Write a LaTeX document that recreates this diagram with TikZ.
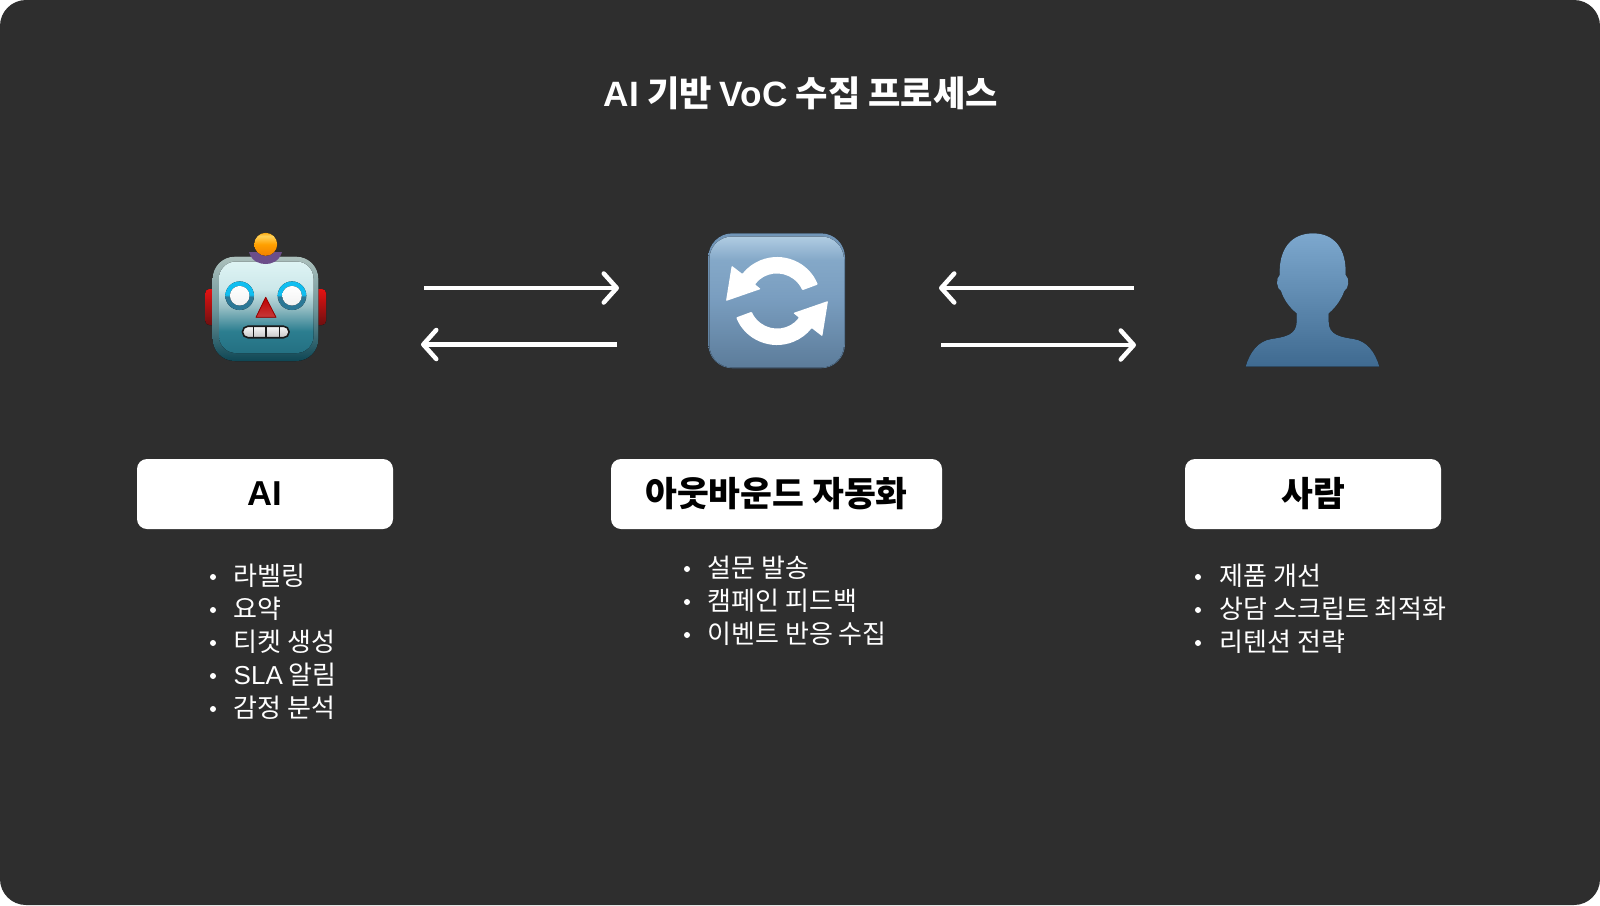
\documentclass[tikz,border=0pt]{standalone}
\usepackage{fontspec}
\setmainfont{Noto Sans CJK KR}
\newfontfamily\latinfont{Liberation Sans}
\usetikzlibrary{arrows.meta}

\definecolor{panelbg}{HTML}{2E2E2E}
\definecolor{earhi}{HTML}{E41212}
\definecolor{earlo}{HTML}{6E1010}
\definecolor{syncrim}{HTML}{7296B8}
\definecolor{synclow}{HTML}{5C7C9A}
\definecolor{syncmid}{HTML}{7A9EC0}
\definecolor{synctop}{HTML}{B0CCE2}
\definecolor{syncshine}{HTML}{84A8C8}
\definecolor{personhi}{HTML}{7DA8CE}
\definecolor{personlo}{HTML}{3F6A90}
\definecolor{rimlo}{HTML}{0E4654}
\definecolor{rimmid}{HTML}{6E969B}
\definecolor{rimhi}{HTML}{ACC0BC}
\definecolor{facelo}{HTML}{247082}
\definecolor{facelow}{HTML}{2C7E90}
\definecolor{facemid}{HTML}{96BEC4}
\definecolor{facepale}{HTML}{CDE8EA}
\definecolor{facehi}{HTML}{DEF4F4}
\definecolor{ringlo}{HTML}{2C7896}
\definecolor{ringhi}{HTML}{10BEF0}
\definecolor{lamplo}{HTML}{F08000}
\definecolor{lampmid}{HTML}{FFA000}
\definecolor{lampshine}{HTML}{FFD25A}
\definecolor{lamptop}{HTML}{FAAA14}
\definecolor{cappurple}{HTML}{6B4E8A}

\pgfdeclareverticalshading{robotrim}{100bp}{color(0bp)=(rimlo); color(25bp)=(rimlo); color(50bp)=(rimmid); color(75bp)=(rimhi); color(100bp)=(rimhi)}
\pgfdeclareverticalshading{robotface}{100bp}{color(0bp)=(facelo); color(25bp)=(facelo); color(37bp)=(facelow); color(50bp)=(facemid); color(60bp)=(facepale); color(75bp)=(facehi); color(100bp)=(facehi)}
\pgfdeclareverticalshading{robotring}{100bp}{color(0bp)=(ringlo); color(49bp)=(ringlo); color(51bp)=(ringhi); color(100bp)=(ringhi)}
\pgfdeclareverticalshading{robotlamp}{100bp}{color(0bp)=(lamplo); color(25bp)=(lamplo); color(50bp)=(lampmid); color(68bp)=(lampshine); color(75bp)=(lamptop); color(100bp)=(lamptop)}
\pgfdeclareverticalshading{synctile}{100bp}{color(0bp)=(synclow); color(25bp)=(synclow); color(52bp)=(syncmid); color(66bp)=(syncshine); color(75bp)=(synctop); color(100bp)=(synctop)}

\begin{document}
\begin{tikzpicture}[x=1pt,y=-1pt,
		labelbox/.style={fill=white,rounded corners=10pt,minimum width=#1,minimum height=70pt,inner sep=0pt,font=\fontsize{34.6}{38}\selectfont\bfseries,text=black},
		listitem/.style={anchor=base west,inner sep=0pt,text=white,font=\fontsize{26}{32}\selectfont},
		listdot/.style={circle,fill=white,inner sep=0pt,minimum size=6pt},
		flowarrow/.style={white,line width=4.5pt,-{Straight Barb[length=13pt,width=29pt,round]}}]
	\useasboundingbox (0,0) rectangle (1600,905);
	\fill[white] (0,0) rectangle (1600,905);
	\fill[panelbg,rounded corners=26pt] (0,0) rectangle (1600,905);
	
	% --- TITLE ---
	\node[text=white,font=\fontsize{35.2}{40}\selectfont\bfseries] (title) at (801,93) {{\latinfont AI} 기반 {\latinfont VoC} 수집 프로세스};
	
	% --- ROBOT ICON ---
	\fill[top color=earhi,bottom color=earlo,rounded corners=4pt] (205.3,289) rectangle (222,325);
	\fill[top color=earhi,bottom color=earlo,rounded corners=4pt] (310,289) rectangle (326,325);
	\fill[shading=robotrim,rounded corners=22pt] (212.7,256.7) rectangle (318.3,361);
	\fill[shading=robotface,rounded corners=17pt] (219,261.5) rectangle (313.5,353);
	\fill[cappurple] (249,252) -- (282,252) .. controls (279,262) and (271,264) .. (265.7,264) .. controls (260,264) and (252,262) .. (249,252) -- cycle;
	\fill[shading=robotlamp] (265.7,244.3) circle (11.5pt);
	\foreach \eyex in {239.7,292} {
		\fill[shading=robotring] (\eyex,295.7) circle (14.3pt);
		\fill[top color=white,bottom color=gray!10] (\eyex,295.7) circle (9.8pt);
	}
	\fill[top color=red!75!black,bottom color=red!55!gray,draw=red!60!black,line width=0.8pt,line join=round] (265.7,297.3) -- (276,317.3) -- (256,317.3) -- cycle;
	\draw[top color=gray!5,bottom color=gray!45,draw=black!90,line width=1.6pt,rounded corners=5.5pt] (242.5,326.2) rectangle (289,337.7);
	\foreach \toothx in {253.5,266,279.5} {
		\draw[black!90,line width=1.8pt] (\toothx,326.5) -- (\toothx,337.4);
	}
	
	% --- SYNC ICON ---
	\fill[top color=syncrim,bottom color=synclow,rounded corners=24pt] (708.3,233.3) rectangle (845,368.3);
	\fill[shading=synctile,rounded corners=23pt] (709.3,236.5) rectangle (844,367.5);
	\foreach \rot in {0,180} {
		\begin{scope}[shift={(777,301)},y=1pt,rotate=\rot]
			\fill[white,rounded corners=0.8pt] (22:44) arc[start angle=22,end angle=142,radius=44] -- (-45.3,35.3) -- (-51,0) -- (-16.3,12) -- (143:27.5) arc[start angle=143,end angle=23,radius=27.5] -- cycle;
		\end{scope}
	}
	
	% --- PERSON ICON ---
	\begin{scope}[shift={(1230,215)},x=0.3333pt,y=-0.3333pt]
		\fill[top color=personhi,bottom color=personlo] (47,455) .. controls (60,410) and (85,378) .. (125,372)
			.. controls (165,366) and (200,360) .. (200,320) -- (200,295)
			.. controls (175,275) and (160,250) .. (153,228)
			.. controls (140,222) and (136,190) .. (149,180)
			.. controls (146,100) and (185,55) .. (249,55)
			.. controls (312,55) and (350,100) .. (347,180)
			.. controls (360,190) and (356,222) .. (343,228)
			.. controls (335,250) and (320,275) .. (296,295) -- (296,320)
			.. controls (296,360) and (330,366) .. (370,372)
			.. controls (410,378) and (435,410) .. (448,455) -- cycle;
	\end{scope}
	
	% --- ARROWS ---
	\coordinate (aiOutStart) at (424,288);
	\coordinate (syncInEnd) at (619,288);
	\coordinate (syncOutStart) at (617,344.5);
	\coordinate (aiInEnd) at (421,344.5);
	\coordinate (personOutStart) at (1134,288);
	\coordinate (syncLeftEnd) at (939,288);
	\coordinate (syncRightStart) at (941,345);
	\coordinate (personInEnd) at (1136,345);
	\draw[flowarrow] (aiOutStart) -- (syncInEnd);
	\draw[flowarrow] (syncOutStart) -- (aiInEnd);
	\draw[flowarrow] (personOutStart) -- (syncLeftEnd);
	\draw[flowarrow] (syncRightStart) -- (personInEnd);
	
	% --- LABEL BOXES ---
	\node[labelbox=256pt] (aibox) at (265,494) {\raisebox{-1pt}{\latinfont AI}};
	\node[labelbox=331pt] (syncbox) at (776.5,494) {\raisebox{-1pt}{아웃바운드 자동화}};
	\node[labelbox=256pt] (personbox) at (1313,494) {\raisebox{-1pt}{사람}};
	
	% --- LISTS ---
	\foreach \row/\rowy/\txt in {1/585.5/라벨링,2/618.5/요약,3/651.5/티켓 생성,4/684.5/{\latinfont SLA} 알림,5/717.5/감정 분석} {
		\node[listdot] (aidot\row) at (213,\rowy-8.5) {};
		\node[listitem] (aiitem\row) at (233.5,\rowy) {\txt};
	}
	\foreach \row/\rowy/\txt in {1/577.5/설문 발송,2/610.5/캠페인 피드백,3/643.5/이벤트 반응 수집} {
		\node[listdot] (syncdot\row) at (687,\rowy-8.5) {};
		\node[listitem] (syncitem\row) at (707.5,\rowy) {\txt};
	}
	\foreach \row/\rowy/\txt in {1/585.5/제품 개선,2/618.5/상담 스크립트 최적화,3/651.5/리텐션 전략} {
		\node[listdot] (persondot\row) at (1198,\rowy-8.5) {};
		\node[listitem] (personitem\row) at (1219.5,\rowy) {\txt};
	}
\end{tikzpicture}
\end{document}
